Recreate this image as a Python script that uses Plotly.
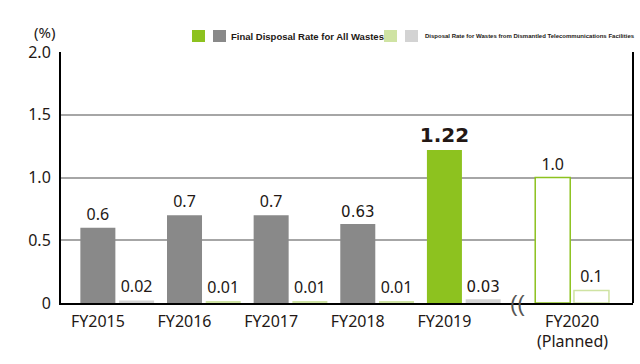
import plotly.graph_objects as go

# ---- data ----
years = ["FY2015", "FY2016", "FY2017", "FY2018", "FY2019", "FY2020"]
planned_note = "(Planned)"
slots = [0, 1, 2, 3, 4, 5.25]          # FY2020 sits after an axis break
all_wastes = [0.6, 0.7, 0.7, 0.63, 1.22, 1.0]
all_labels = ["0.6", "0.7", "0.7", "0.63", "<b>1.22</b>", "1.0"]
telecom = [0.02, 0.01, 0.01, 0.01, 0.03, 0.1]
tel_labels = ["0.02", "0.01", "0.01", "0.01", "0.03", "0.1"]
y_ticks = [0, 0.5, 1.0, 1.5, 2.0]
y_ticktext = ["0", "0.5", "1.0", "1.5", "2.0"]

GRAY = "#898989"
GREEN = "#8dc21f"
LGREEN = "#cfe3a3"
LGRAY = "#d3d3d3"
TXT = "#231815"
FONT = "Noto Sans"
WIDE = "DejaVu Sans"

bargap = 0.106
half = (1 - bargap) / 4

fig = go.Figure()
fig.add_trace(go.Bar(
    x=slots, y=all_wastes, text=all_labels, textposition="outside",
    cliponaxis=False, constraintext="none",
    marker=dict(color=[GRAY, GRAY, GRAY, GRAY, GREEN, "white"],
                line=dict(color=[GRAY, GRAY, GRAY, GRAY, GREEN, GREEN],
                          width=[0, 0, 0, 0, 0, 1.5])),
    textfont=dict(size=[16, 16, 16, 15, 20, 16],
                  family=[FONT, FONT, FONT, WIDE, WIDE, FONT],
                  color=TXT),
    showlegend=False, hoverinfo="skip"))
fig.add_trace(go.Bar(
    x=slots, y=telecom, text=tel_labels, textposition="outside",
    cliponaxis=False, constraintext="none",
    marker=dict(color=[LGRAY, LGREEN, LGREEN, LGREEN, LGRAY, "white"],
                line=dict(color=[LGRAY, LGREEN, LGREEN, LGREEN, LGRAY, LGREEN],
                          width=[0, 0, 0, 0, 0, 1.5])),
    textfont=dict(size=[16, 16, 16, 16, 15, 16],
                  family=[FONT, FONT, FONT, FONT, WIDE, FONT],
                  color=TXT),
    showlegend=False, hoverinfo="skip"))

tickvals = [s - half for s in slots[:5]] + [slots[5]]

fig.update_layout(
    width=640, height=364,
    margin=dict(l=61, r=7, t=52, b=61),
    paper_bgcolor="white", plot_bgcolor="white",
    barmode="group", bargap=bargap, bargroupgap=0.096,
    font=dict(family=FONT, color=TXT),
    xaxis=dict(range=[-0.649, 5.953], tickvals=tickvals, ticktext=years,
               tickfont=dict(size=16, color=TXT), showgrid=False, zeroline=False,
               showline=True, linecolor="black", linewidth=2, ticks="",
               ticklabelstandoff=3),
    yaxis=dict(range=[0, 2], tickvals=y_ticks, ticktext=y_ticktext,
               tickfont=dict(size=16, color=TXT), showgrid=True,
               gridcolor="#a6a6a6", gridwidth=1.5, zeroline=False,
               showline=True, linecolor="black", linewidth=2, ticks="",
               ticklabelstandoff=5),
)

# second line of the FY2020 tick label
fig.add_annotation(x=slots[5], y=-0.152, xref="x", yref="paper", text=planned_note,
                   showarrow=False, font=dict(size=16, color=TXT),
                   xanchor="center", yanchor="middle")
# right frame line
fig.add_shape(type="line", xref="paper", yref="paper", x0=1, x1=1, y0=0, y1=1,
              line=dict(color="black", width=2))
# axis break mark
fig.add_annotation(x=4.62, y=0, xref="x", yref="y", text="((", showarrow=False,
                   font=dict(size=22, color="#555", family="Liberation Sans"),
                   yanchor="middle", xanchor="center")
# unit label
fig.add_annotation(x=-0.007, y=1.03, xref="paper", yref="paper", text="(%)",
                   showarrow=False, font=dict(size=15, color=TXT),
                   xanchor="right", yanchor="bottom")

# custom legend
def swatch(x0, color):
    fig.add_shape(type="rect", xref="paper", yref="paper",
                  x0=x0, x1=x0 + 13 / 572, y0=(364 - 61 - 42) / 251,
                  y1=(364 - 61 - 30) / 251, fillcolor=color, line_width=0)

px = lambda p: (p - 61) / 572
swatch(px(192), GREEN)
swatch(px(213), GRAY)
fig.add_annotation(x=px(229), y=(364 - 61 - 36) / 251, xref="paper", yref="paper",
                   text="<b>Final Disposal Rate for All Wastes</b>", showarrow=False,
                   xanchor="left", yanchor="middle",
                   font=dict(size=9.5, color=TXT, family="Liberation Sans"))
swatch(px(384), LGREEN)
swatch(px(405), LGRAY)
fig.add_annotation(x=px(423), y=(364 - 61 - 36) / 251, xref="paper", yref="paper",
                   text="<b>Disposal Rate for Wastes from Dismantled Telecommunications Facilities</b>",
                   showarrow=False, xanchor="left", yanchor="middle",
                   font=dict(size=6, color=TXT, family="Liberation Sans"))

fig.write_html("out.html", config={"displayModeBar": False},
               post_script="document.body.style.margin='0';")
